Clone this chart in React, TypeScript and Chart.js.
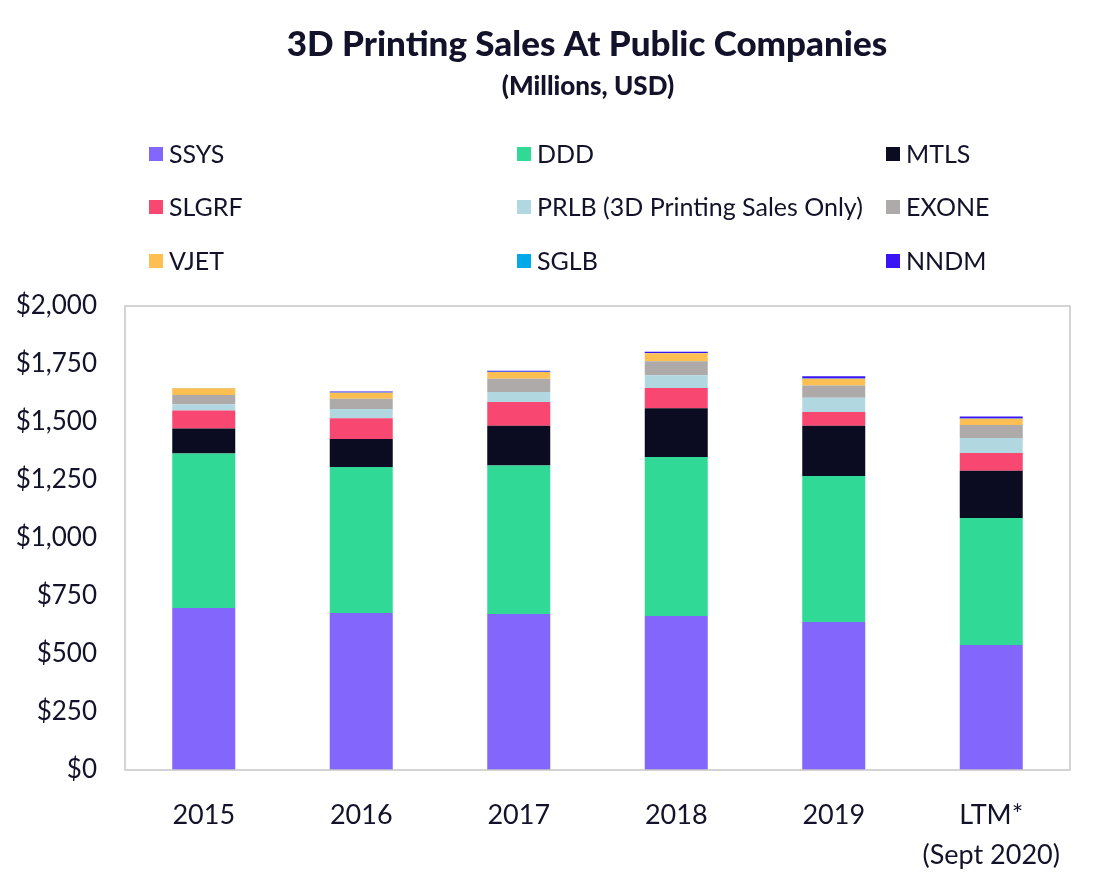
import React, { useEffect, useRef } from "react";
import { Chart, registerables } from "chart.js";

Chart.register(...registerables);

const titleText = "3D Printing Sales At Public Companies";
const subtitleText = "(Millions, USD)";

const categories: (string | string[])[] = ["2015", "2016", "2017", "2018", "2019", ["LTM*", "(Sept 2020)"]];

const seriesNames = [
  "SSYS",
  "DDD",
  "MTLS",
  "SLGRF",
  "PRLB (3D Printing Sales Only)",
  "EXONE",
  "VJET",
  "SGLB",
  "NNDM",
];
const seriesColors = [
  "#8366fb",
  "#30d996",
  "#0b0b22",
  "#f84770",
  "#b1d8e1",
  "#aeaaaa",
  "#fdbf52",
  "#00aaea",
  "#3a14f5",
];

const ssys = [698, 677, 672, 664, 638, 539];
const ddd = [666, 629, 641, 685, 629, 547];
const mtls = [108, 121, 171, 210, 217, 204];
const slgrf = [78, 89, 102, 88, 59, 76];
const prlb = [26, 40, 43, 55, 62, 65];
const exone = [40, 44, 57, 60, 52, 56];
const vjet = [29, 26, 30, 34, 29, 27];
const sglb = [2, 1, 1, 1, 1, 1];
const nndm = [0, 5, 4, 6, 10, 9];

const seriesValues = [ssys, ddd, mtls, slgrf, prlb, exone, vjet, sglb, nndm];

const yMin = 0;
const yMax = 2000;
const yStep = 250;

const textColor = "#12122a";
const fontFamily = "Lato, 'Noto Sans', sans-serif";

const overlayPlugin = {
  id: "overlay",
  afterDraw(chart: any) {
    const ctx = chart.ctx as CanvasRenderingContext2D;
    const ca = chart.chartArea;
    ctx.save();
    ctx.strokeStyle = "#c6c6c6";
    ctx.lineWidth = 1.5;
    ctx.strokeRect(ca.left, ca.top, ca.right - ca.left, ca.bottom - ca.top);

    ctx.fillStyle = textColor;
    ctx.textAlign = "center";
    ctx.textBaseline = "middle";
    ctx.font = `900 35px ${fontFamily}`;
    ctx.fillText(titleText, 587, 45);
    ctx.font = `900 26px ${fontFamily}`;
    ctx.fillText(subtitleText, 588, 87);

    const colX = [149, 517, 886];
    const rowY = [154, 207, 261];
    ctx.font = `25px ${fontFamily}`;
    chart.data.datasets.forEach((ds: any, i: number) => {
      const x = colX[i % 3];
      const y = rowY[Math.floor(i / 3)];
      ctx.fillStyle = ds.backgroundColor;
      ctx.fillRect(x, y - 7, 14, 14);
      ctx.fillStyle = textColor;
      ctx.textAlign = "left";
      ctx.fillText(ds.label, x + 20, y + 1);
    });
    ctx.restore();
  },
};

export default function App() {
  const ref = useRef<HTMLCanvasElement | null>(null);

  useEffect(() => {
    if (!ref.current) return;
    const chart = new Chart(ref.current, {
      type: "bar",
      data: {
        labels: categories as any,
        datasets: seriesNames.map((name, i) => ({
          label: name,
          data: seriesValues[i],
          backgroundColor: seriesColors[i],
          borderWidth: 0,
          barPercentage: 0.4,
          categoryPercentage: 1,
        })),
      },
      options: {
        animation: false,
        responsive: true,
        maintainAspectRatio: false,
        layout: { padding: { top: 306, right: 40, left: 0, bottom: 0 } },
        plugins: {
          legend: { display: false },
          title: { display: false },
          tooltip: { enabled: false },
        },
        scales: {
          x: {
            stacked: true,
            grid: { display: false, drawTicks: false },
            border: { display: false },
            ticks: {
              color: textColor,
              padding: 25,
              font: { family: fontFamily, size: 27, lineHeight: 1.5 },
              maxRotation: 0,
              autoSkip: false,
            },
            afterFit: (scale: any) => {
              scale.height = 121;
            },
          },
          y: {
            stacked: true,
            min: yMin,
            max: yMax,
            grid: { display: false, drawTicks: false },
            border: { display: false },
            ticks: {
              stepSize: yStep,
              color: textColor,
              padding: 28,
              font: { family: fontFamily, size: 26 },
              callback: (v: any) => "$" + Number(v).toLocaleString("en-US"),
            },
            afterFit: (scale: any) => {
              scale.width = 125;
            },
          },
        },
      },
      plugins: [overlayPlugin],
    });
    return () => chart.destroy();
  }, []);

  return (
    <div style={{ position: "absolute", left: 0, top: 0, width: 1110, height: 891, background: "#fff" }}>
      <canvas ref={ref} />
    </div>
  );
}
